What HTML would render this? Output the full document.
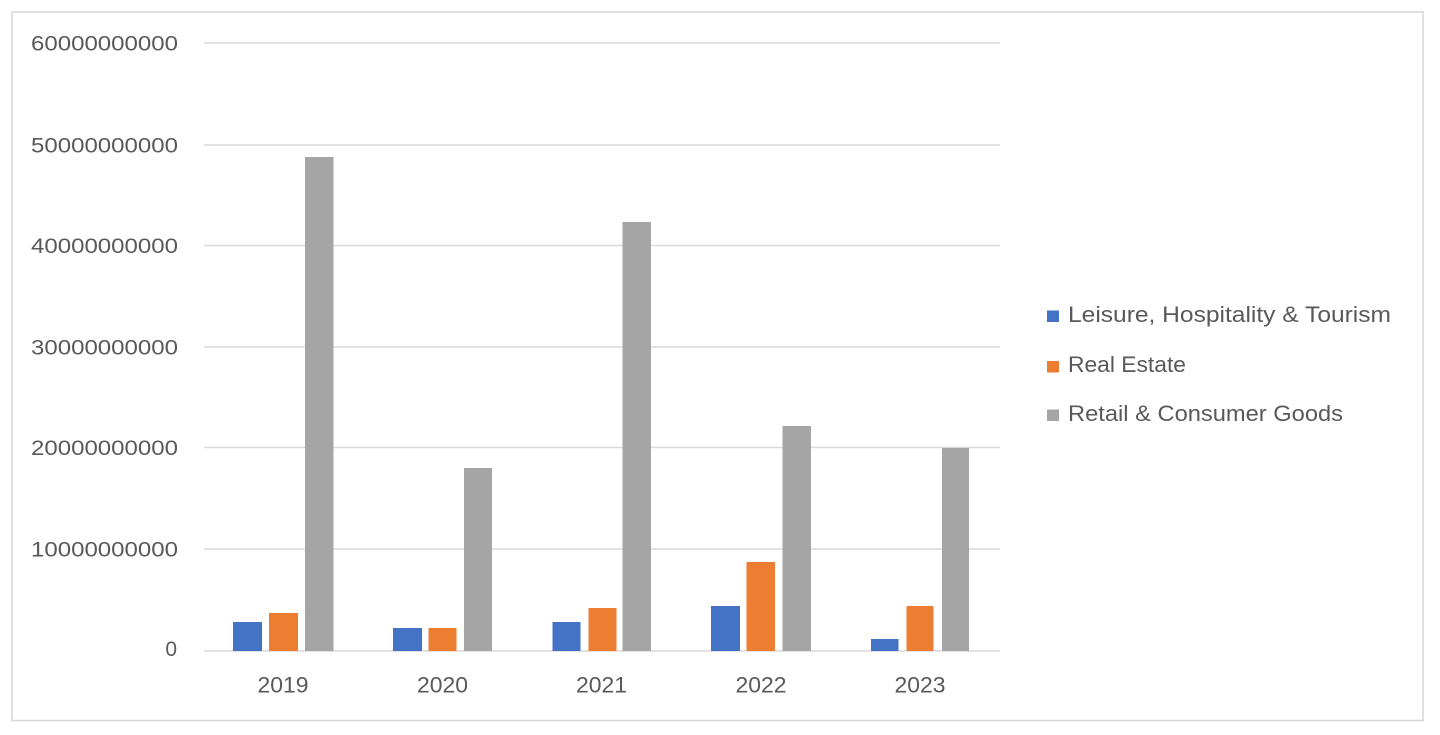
<!DOCTYPE html>
<html>
<head>
<meta charset="utf-8">
<style>
html,body{margin:0;padding:0;background:#fff;}
svg{display:block;}
text{font-family:"Liberation Sans",sans-serif;fill:#595959;}
</style>
</head>
<body>
<svg width="1440" height="735" viewBox="0 0 1440 735" xmlns="http://www.w3.org/2000/svg">
<rect x="0" y="0" width="1440" height="735" fill="#fff"/>
<rect x="12" y="12" width="1411" height="708.5" fill="none" stroke="#d6d6d6" stroke-width="1.5"/>

<!-- gridlines -->
<g stroke="#d9d9d9" stroke-width="1.4">
<line x1="204" y1="43" x2="1000" y2="43"/>
<line x1="204" y1="145" x2="1000" y2="145"/>
<line x1="204" y1="245.5" x2="1000" y2="245.5"/>
<line x1="204" y1="347" x2="1000" y2="347"/>
<line x1="204" y1="447.5" x2="1000" y2="447.5"/>
<line x1="204" y1="549" x2="1000" y2="549"/>
<line x1="204" y1="651" x2="1000" y2="651"/>
</g>

<!-- y labels -->
<g font-size="21" text-anchor="end">
<text x="178" y="50.5" textLength="147" lengthAdjust="spacingAndGlyphs">60000000000</text>
<text x="178" y="152.5" textLength="147" lengthAdjust="spacingAndGlyphs">50000000000</text>
<text x="178" y="253" textLength="147" lengthAdjust="spacingAndGlyphs">40000000000</text>
<text x="178" y="354.5" textLength="147" lengthAdjust="spacingAndGlyphs">30000000000</text>
<text x="178" y="455" textLength="147" lengthAdjust="spacingAndGlyphs">20000000000</text>
<text x="178" y="556.5" textLength="147" lengthAdjust="spacingAndGlyphs">10000000000</text>
<text x="177" y="656">0</text>
</g>

<!-- bars -->
<g>
<!-- 2019 -->
<rect x="233" y="622" width="29" height="29" fill="#4472c4"/>
<rect x="269" y="613" width="29" height="38" fill="#ed7d31"/>
<rect x="305" y="157" width="28.5" height="494" fill="#a5a5a5"/>
<!-- 2020 -->
<rect x="393" y="628" width="29" height="23" fill="#4472c4"/>
<rect x="428.5" y="628" width="28" height="23" fill="#ed7d31"/>
<rect x="464" y="468" width="28" height="183" fill="#a5a5a5"/>
<!-- 2021 -->
<rect x="552.5" y="622" width="28" height="29" fill="#4472c4"/>
<rect x="588.5" y="608" width="28" height="43" fill="#ed7d31"/>
<rect x="622.5" y="222" width="28.5" height="429" fill="#a5a5a5"/>
<!-- 2022 -->
<rect x="711" y="606" width="29" height="45" fill="#4472c4"/>
<rect x="746.5" y="562" width="28.5" height="89" fill="#ed7d31"/>
<rect x="782.5" y="426" width="28.5" height="225" fill="#a5a5a5"/>
<!-- 2023 -->
<rect x="871" y="639" width="27.5" height="12" fill="#4472c4"/>
<rect x="906.5" y="606" width="27" height="45" fill="#ed7d31"/>
<rect x="942" y="448" width="27" height="203" fill="#a5a5a5"/>
</g>

<!-- x labels -->
<g font-size="22" text-anchor="middle">
<text x="283" y="692.5" textLength="51" lengthAdjust="spacingAndGlyphs">2019</text>
<text x="442.5" y="692.5" textLength="51" lengthAdjust="spacingAndGlyphs">2020</text>
<text x="601.5" y="692.5" textLength="51" lengthAdjust="spacingAndGlyphs">2021</text>
<text x="761" y="692.5" textLength="51" lengthAdjust="spacingAndGlyphs">2022</text>
<text x="920" y="692.5" textLength="51" lengthAdjust="spacingAndGlyphs">2023</text>
</g>

<!-- legend -->
<rect x="1047" y="310.5" width="12" height="11.5" fill="#4472c4"/>
<rect x="1047" y="361" width="12" height="11.5" fill="#ed7d31"/>
<rect x="1047" y="409.5" width="12" height="11.5" fill="#a5a5a5"/>
<g font-size="22">
<text x="1068" y="322" textLength="323" lengthAdjust="spacingAndGlyphs">Leisure, Hospitality &amp; Tourism</text>
<text x="1068" y="372" textLength="118" lengthAdjust="spacingAndGlyphs">Real Estate</text>
<text x="1068" y="421" textLength="275" lengthAdjust="spacingAndGlyphs">Retail &amp; Consumer Goods</text>
</g>
</svg>
</body>
</html>
